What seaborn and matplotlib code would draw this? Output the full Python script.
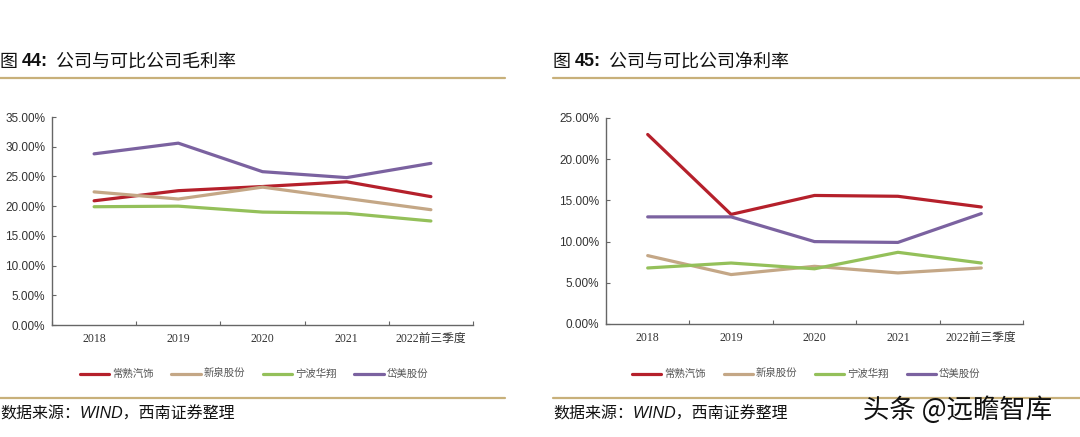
import matplotlib
matplotlib.use("Agg")
import matplotlib.pyplot as plt
import seaborn as sns
import pandas as pd
import numpy as np
from matplotlib.lines import Line2D
from matplotlib.ticker import FuncFormatter, FixedLocator

sns.set_theme(style="white")
plt.rcParams['font.family'] = ['Liberation Sans', 'Noto Sans CJK SC', 'DejaVu Sans']

categories = ["2018", "2019", "2020", "2021", "2022前三季度"]
companies = ["常熟汽饰", "新泉股份", "宁波华翔", "岱美股份"]

gross_changshu = [20.9, 22.6, 23.3, 24.1, 21.6]
gross_xinquan = [22.4, 21.2, 23.2, 21.3, 19.4]
gross_huaxiang = [19.9, 20.0, 19.0, 18.8, 17.5]
gross_daimei = [28.8, 30.6, 25.8, 24.8, 27.2]

net_changshu = [23.0, 13.3, 15.6, 15.5, 14.2]
net_xinquan = [8.3, 6.0, 7.0, 6.2, 6.8]
net_huaxiang = [6.8, 7.4, 6.7, 8.7, 7.4]
net_daimei = [13.0, 13.0, 10.0, 9.9, 13.4]

colors = ["#b5202b", "#c4a786", "#94c05a", "#7b62a0"]
palette = dict(zip(companies, colors))


def long_df(series):
    rows = []
    for comp, vals in zip(companies, series):
        for i, (c, v) in enumerate(zip(categories, vals)):
            rows.append({"pos": i, "cat": c, "company": comp, "value": v / 100})
    return pd.DataFrame(rows)


gross_df = long_df([gross_changshu, gross_xinquan, gross_huaxiang, gross_daimei])
net_df = long_df([net_changshu, net_xinquan, net_huaxiang, net_daimei])

fig = plt.figure(figsize=(10.8, 4.37), dpi=100)
W, H = 1080, 437

def fx(px):
    return px / W

def fy(py):
    return 1 - py / H

axL = fig.add_axes([fx(52), fy(325), fx(473 - 52), (325 - 117) / H])
axR = fig.add_axes([fx(606), fy(324), fx(1023 - 606), (324 - 118) / H])

spine_col = "#666666"
gold = "#c8b07a"

def style_axis(ax, df, ymax, ystep, leg_y):
    sns.lineplot(data=df, x="pos", y="value", hue="company", palette=palette,
                 hue_order=companies, linewidth=2.3, ax=ax, legend=False,
                 sort=False, estimator=None)
    ax.set_xlim(-0.5, len(categories) - 0.5)
    ax.set_ylim(0, ymax)
    ax.set_yticks(np.arange(0, ymax + 1e-9, ystep))
    ax.yaxis.set_major_formatter(FuncFormatter(lambda v, p: f"{v*100:.2f}%"))
    ax.set_xticks(range(len(categories)))
    ax.set_xticklabels(categories, family=['Liberation Serif', 'Noto Sans CJK SC'],
                       fontsize=8.5, color="#333333")
    ax.xaxis.set_minor_locator(FixedLocator(np.arange(-0.5, len(categories), 1)))
    ax.tick_params(axis='x', which='major', length=0, pad=6)
    ax.tick_params(axis='x', which='minor', direction='in', length=3, width=0.8,
                   color=spine_col, bottom=True)
    ax.tick_params(axis='y', direction='in', length=3, width=0.8, color=spine_col,
                   labelsize=8.5, labelcolor="#333333", pad=5, left=True)
    for s in ["top", "right"]:
        ax.spines[s].set_visible(False)
    for s in ["left", "bottom"]:
        ax.spines[s].set_color(spine_col)
        ax.spines[s].set_linewidth(1.0)
    ax.set_xlabel("")
    ax.set_ylabel("")
    ax.set_facecolor("white")
    handles = [Line2D([0], [0], color=c, lw=2.3) for c in colors]
    ax.legend(handles, companies, loc='center', bbox_to_anchor=(0.48, leg_y),
              ncol=4, frameon=False, handlelength=2.8, handletextpad=0.3,
              columnspacing=1.7, prop={'family': ['Noto Sans CJK SC'], 'size': 7.5},
              labelcolor="#555555")


style_axis(axL, gross_df, 0.35, 0.05, -49 / 208)
style_axis(axR, net_df, 0.25, 0.05, -50 / 206)

# Titles
def title(x, num, rest):
    t1 = fig.text(fx(x), fy(62), "图 ", fontsize=13, va='center', ha='left',
                  family=['Noto Sans CJK SC'], color="#111111")
    a2 = fig.add_artist(plt.Annotation(f"{num}:", xy=(1, 0.5), xycoords=t1,
                        va='center', ha='left', fontsize=13, fontweight='bold',
                        family=['Liberation Sans'], color="#111111"))
    fig.add_artist(plt.Annotation("  " + rest, xy=(1, 0.5), xycoords=a2,
                   va='center', ha='left', fontsize=13,
                   family=['Noto Sans CJK SC'], color="#111111"))

title(0, "44", "公司与可比公司毛利率")
title(553, "45", "公司与可比公司净利率")

# Decorative rules
for x0, x1 in [(0, 505), (553, 1080)]:
    for y in [78, 398]:
        fig.add_artist(Line2D([fx(x0), fx(x1)], [fy(y), fy(y)], color=gold, lw=1.6))

# Sources
for x in [0, 553]:
    fig.text(fx(x), fy(414), "数据来源：WIND，西南证券整理", fontsize=11.5, va='center',
             ha='left', style='italic', family=['Liberation Sans', 'Noto Sans CJK SC'],
             color="#111111")

# Watermark
fig.text(fx(1052), fy(410), "头条 @远瞻智库", fontsize=19, va='center', ha='right',
         family=['Noto Sans CJK SC', 'DejaVu Sans'], color="#111111")

fig.savefig("out.png", dpi=100, facecolor="white")
